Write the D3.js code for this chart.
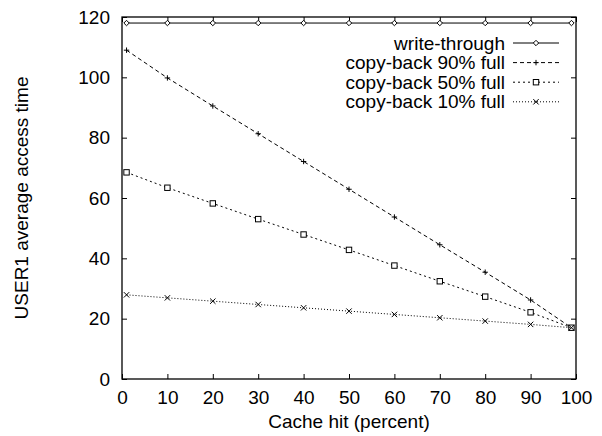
<!DOCTYPE html>
<html><head><meta charset="utf-8">
<script src="https://cdn.jsdelivr.net/npm/d3@7"></script>
<style>body{margin:0;background:#fff}text{font-family:"Liberation Sans",Arial,sans-serif;fill:#000}</style>
</head><body><svg id="c" width="602" height="436"></svg>
<script>
const hits = [1,10,20,30,40,50,60,70,80,90,99];
const writeThrough = [118,118,118,118,118,118,118,118,118,118,118];
const cb90 = [109,99.8,90.5,81.3,72.1,62.9,53.7,44.5,35.4,26.2,17];
const cb50 = [68.5,63.4,58.2,53,47.9,42.8,37.6,32.4,27.3,22.1,17];
const cb10 = [27.9,26.9,25.8,24.7,23.6,22.5,21.4,20.3,19.2,18.1,17];
const xTicks = [0,10,20,30,40,50,60,70,80,90,100];
const yTicks = [0,20,40,60,80,100,120];
const seriesNames = ["write-through","copy-back 90% full","copy-back 50% full","copy-back 10% full"];

const series = [
  {name:seriesNames[0], vals:writeThrough, dash:null, mark:"diamond", col:"#000"},
  {name:seriesNames[1], vals:cb90, dash:"4,3", mark:"plus", col:"#000"},
  {name:seriesNames[2], vals:cb50, dash:"2,3", mark:"square", col:"#000"},
  {name:seriesNames[3], vals:cb10, dash:"1,2", mark:"cross", col:"#000"}
];

const svg = d3.select("#c");
const L=122,R=576,T=17,B=379;
const x = d3.scaleLinear().domain([0,100]).range([L,R]);
const y = d3.scaleLinear().domain([0,120]).range([B,T]);
const tl = 5;

const gx = svg.append("g").attr("transform",`translate(0,${B})`)
  .call(d3.axisBottom(x).tickValues(xTicks).tickSize(-tl).tickPadding(12));
const gxt = svg.append("g").attr("transform",`translate(0,${T})`)
  .call(d3.axisTop(x).tickValues(xTicks).tickSize(-tl).tickFormat(""));
const gy = svg.append("g").attr("transform",`translate(${L},0)`)
  .call(d3.axisLeft(y).tickValues(yTicks).tickSize(-tl).tickPadding(12));
const gyr = svg.append("g").attr("transform",`translate(${R},0)`)
  .call(d3.axisRight(y).tickValues(yTicks).tickSize(-tl).tickFormat(""));
[gx,gxt,gy,gyr].forEach(g=>{
  g.select(".domain").remove();
  g.selectAll("line").attr("stroke","#000").attr("stroke-width",1);
  g.selectAll("text").attr("font-size",19).attr("font-family","Liberation Sans, Arial, sans-serif").attr("fill","#000");
});
svg.append("rect").attr("x",L).attr("y",T).attr("width",R-L).attr("height",B-T)
  .attr("fill","none").attr("stroke","#000").attr("stroke-width",1.3);

svg.append("text").attr("x",(L+R)/2).attr("y",428).attr("text-anchor","middle")
  .attr("font-size",19).text("Cache hit (percent)");
svg.append("text").attr("transform",`translate(28,${(T+B)/2}) rotate(-90)`).attr("text-anchor","middle")
  .attr("font-size",19).text("USER1 average access time");

function marker(g,type,cx,cy){
  const s=2.7;
  if(type==="diamond"){
    g.append("path").attr("d",`M${cx},${cy-s}L${cx+s},${cy}L${cx},${cy+s}L${cx-s},${cy}Z`).attr("fill","#fff").attr("stroke","#000").attr("stroke-width",1);
  } else if(type==="plus"){
    g.append("path").attr("d",`M${cx-s},${cy}H${cx+s}M${cx},${cy-s}V${cy+s}`).attr("stroke","#000").attr("stroke-width",1);
  } else if(type==="square"){
    g.append("rect").attr("x",cx-s).attr("y",cy-s).attr("width",2*s).attr("height",2*s).attr("fill","#fff").attr("stroke","#000").attr("stroke-width",1);
  } else {
    g.append("path").attr("d",`M${cx-s},${cy-s}L${cx+s},${cy+s}M${cx-s},${cy+s}L${cx+s},${cy-s}`).attr("stroke","#000").attr("stroke-width",1);
  }
}

const line = d3.line().x((d,i)=>x(hits[i])).y(d=>y(d));
series.forEach(s=>{
  const g = svg.append("g");
  g.append("path").attr("d",line(s.vals)).attr("fill","none").attr("stroke",s.col)
    .attr("stroke-width",1).attr("stroke-dasharray",s.dash);
  s.vals.forEach((v,i)=>marker(g,s.mark,x(hits[i]),y(v)));
});

const ly0=43, ldy=19.6;
series.forEach((s,i)=>{
  const yy = ly0+i*ldy;
  svg.append("text").attr("x",505).attr("y",yy).attr("dy","0.35em").attr("text-anchor","end")
    .attr("font-size",19).text(s.name);
  const g=svg.append("g");
  g.append("line").attr("x1",513).attr("x2",559).attr("y1",yy).attr("y2",yy)
    .attr("stroke","#000").attr("stroke-width",1).attr("stroke-dasharray",s.dash);
  marker(g,s.mark,536,yy);
});
</script></body></html>
